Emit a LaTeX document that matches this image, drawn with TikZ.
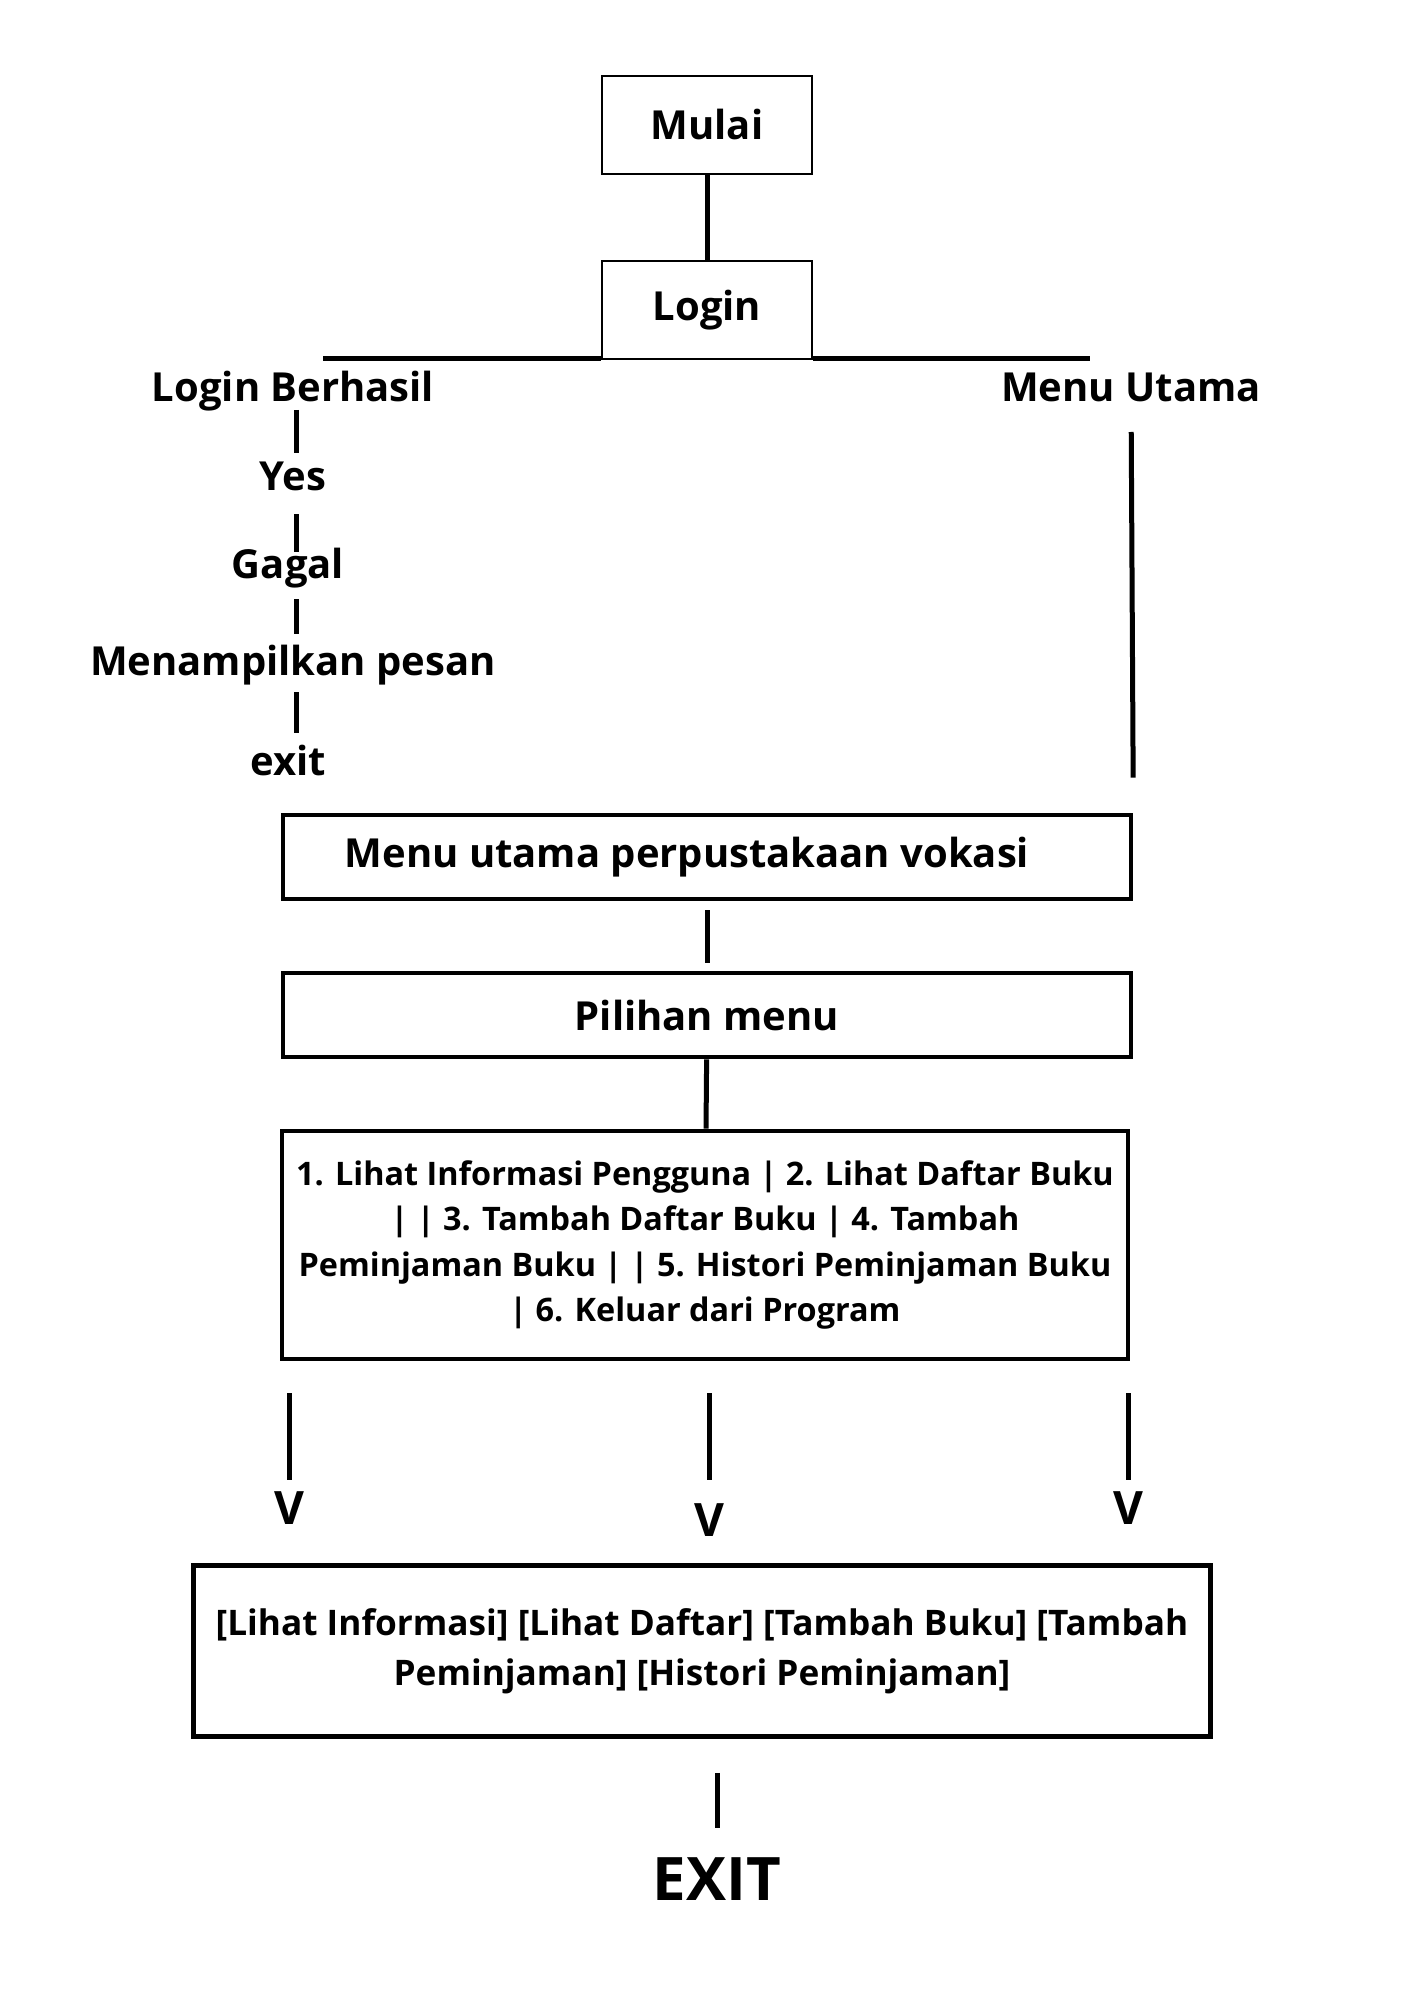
\documentclass[tikz,border=0pt]{standalone}
\usepackage{fontspec}
\setmainfont{Open Sans}
\usepackage{tikz}
\usepackage{xcolor}

\begin{document}
\begin{tikzpicture}[x=0.5pt,y=-0.5pt,
  smallbox/.style={draw, line width=1.35pt, minimum width=105pt, minimum height=49pt,
    font=\bfseries\fontsize{20}{24}\selectfont},
  bigbox/.style={draw, line width=2.35pt, inner sep=0pt},
  lbl/.style={font=\bfseries\fontsize{20}{24}\selectfont, inner sep=0pt,
    text height=15pt, text depth=5pt},
  pointer/.style={font=\bfseries\fontsize{23}{26}\selectfont, inner sep=0pt},
  link/.style={line width=2.5pt},
  bar/.style={line width=2.5pt}]

% Page
\fill[white] (0,0) rectangle (1414,2000);
\useasboundingbox (0,0) rectangle (1414,2000);

% Start and login
\node[smallbox] (mulai) at (707,125) {Mulai};
\node[smallbox] (login) at (707,310) {Login};
\draw[link] (mulai) -- (login);

% Branch under login
\coordinate (barL) at (323,359);
\coordinate (barR) at (1090,359);
\draw[bar] (barL) -- (barL -| login.west);
\draw[bar] (login.east |- barR) -- (barR);

% Left column
\node[lbl] (berhasil) at (293,392) {Login Berhasil};
\node[lbl] (yes) at (293,480) {Yes};
\node[lbl] (gagal) at (288,568) {Gagal};
\node[lbl] (pesan) at (293,665) {Menampilkan pesan};
\node[lbl] (keluar) at (288,765) {exit};
\coordinate (col) at (296,0);
\draw[link, shorten <=9pt, shorten >=13.5pt] (col |- berhasil) -- (col |- yes);
\draw[link, shorten <=17pt, shorten >=8pt] (col |- yes) -- (col |- gagal);
\draw[link, shorten <=15.5pt, shorten >=15.5pt] (col |- gagal) -- (col |- pesan);
\draw[link, shorten <=13.5pt, shorten >=16pt] (col |- pesan) -- (col |- keluar);

% Right column
\node[lbl] (utama) at (1131,392) {Menu Utama};

% Main menu
\node[bigbox, minimum width=424pt, minimum height=42pt,
  font=\bfseries\fontsize{20}{24}\selectfont] (menu) at (707,857)
  {Menu utama perpustakaan vokasi\hspace*{20pt}};
\draw[link, shorten <=20pt, shorten >=17.5pt] (utama.center) -- (menu.north east);

\node[bigbox, minimum width=424pt, minimum height=42pt,
  font=\bfseries\fontsize{20}{24}\selectfont] (pilihan) at (707,1015) {Pilihan menu};
\draw[link, shorten <=4.5pt, shorten >=4pt] (menu) -- (pilihan);

% Options
\node[bigbox, minimum width=423pt, minimum height=114pt, align=center,
  font=\bfseries\fontsize{16.2}{22.8}\selectfont] (opsi) at (705,1245)
  {1. Lihat Informasi Pengguna | 2. Lihat Daftar Buku\\
   | | 3. Tambah Daftar Buku | 4. Tambah\\
   Peminjaman Buku | | 5. Histori Peminjaman Buku\\
   | 6. Keluar dari Program};
\draw[link] (pilihan) -- (opsi);

% Arrows down
\node[pointer] (vL) at (289,1508) {V};
\node[pointer] (vM) at (709,1520) {V};
\node[pointer] (vR) at (1128,1508) {V};
\draw[link, shorten <=16pt, shorten >=14pt] (vL.center |- opsi.south) -- (vL.center);
\draw[link, shorten <=16pt, shorten >=20pt] (vM.center |- opsi.south) -- (vM.center);
\draw[link, shorten <=16pt, shorten >=14pt] (vR.center |- opsi.south) -- (vR.center);

% Result
\node[bigbox, minimum width=508.5pt, minimum height=85.5pt, align=center,
  font=\bfseries\fontsize{17.6}{25}\selectfont] (hasil) at (702,1651)
  {[Lihat Informasi] [Lihat Daftar] [Tambah Buku] [Tambah\\
   Peminjaman] [Histori Peminjaman]};

% Exit
\node[font=\bfseries\fontsize{30}{36}\selectfont, inner sep=0pt] (exit) at (717,1879) {EXIT};
\draw[link, shorten <=17pt, shorten >=14.5pt] (exit.north |- hasil.south) -- (exit.north);

\end{tikzpicture}
\end{document}
